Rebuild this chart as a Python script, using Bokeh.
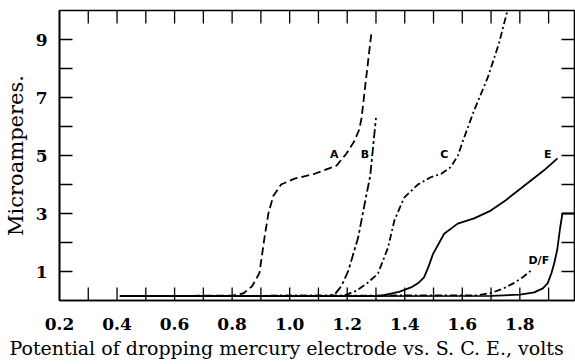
import math
from bokeh.plotting import figure
from bokeh.models import FixedTicker, Range1d, Label, NumeralTickFormatter, Title
from bokeh.embed import file_html
from bokeh.resources import INLINE

# ---- data (volts vs S.C.E., microamperes) ----
a_volts = [0.41, 0.80, 0.84, 0.87, 0.895, 0.913, 0.926, 0.943, 0.97, 1.017, 1.087, 1.163, 1.197, 1.225, 1.242, 1.25, 1.265, 1.285]
a_micro = [0.15, 0.17, 0.25, 0.5, 0.95, 2.2, 3.0, 3.6, 4.0, 4.2, 4.37, 4.65, 5.06, 5.5, 5.9, 6.3, 7.6, 9.3]

b_volts = [0.41, 1.12, 1.156, 1.18, 1.204, 1.238, 1.26, 1.28, 1.30]
b_micro = [0.15, 0.16, 0.2, 0.5, 1.03, 2.17, 3.3, 4.3, 6.3]

c_volts = [0.41, 1.19, 1.232, 1.27, 1.307, 1.342, 1.364, 1.398, 1.446, 1.49, 1.527, 1.56, 1.585, 1.602, 1.641, 1.689, 1.727, 1.757]
c_micro = [0.15, 0.17, 0.34, 0.6, 0.93, 1.83, 2.76, 3.55, 4.0, 4.25, 4.37, 4.6, 5.0, 5.5, 6.55, 7.7, 8.85, 10.0]

d_volts = [0.41, 1.65, 1.70, 1.74, 1.779, 1.81, 1.845]
d_micro = [0.15, 0.18, 0.26, 0.4, 0.6, 0.8, 1.08]

e_volts = [0.41, 1.30, 1.318, 1.38, 1.422, 1.447, 1.467, 1.482, 1.498, 1.537, 1.584, 1.641, 1.699, 1.75, 1.803, 1.883, 1.931]
e_micro = [0.15, 0.15, 0.17, 0.3, 0.45, 0.6, 0.8, 1.15, 1.6, 2.3, 2.65, 2.83, 3.1, 3.45, 3.86, 4.48, 4.9]

f_volts = [0.41, 1.70, 1.80, 1.85, 1.88, 1.897, 1.91, 1.92, 1.93, 1.94, 1.948, 1.99]
f_micro = [0.15, 0.16, 0.2, 0.28, 0.42, 0.6, 0.95, 1.3, 1.75, 2.5, 3.0, 3.0]

x_labelled = [0.2, 0.4, 0.6, 0.8, 1.0, 1.2, 1.4, 1.6, 1.8]
x_all_ticks = [0.3, 0.4, 0.5, 0.6, 0.7, 0.8, 0.9, 1.0, 1.1, 1.2, 1.3, 1.4, 1.5, 1.6, 1.7, 1.8, 1.9]
y_labelled = [1, 3, 5, 7, 9]
y_all_ticks = [1, 2, 3, 4, 5, 6, 7, 8, 9]

curve_names = ["A", "B", "C", "E", "D/F"]
name_volts = [1.155, 1.262, 1.537, 1.897, 1.866]
name_micro = [5.05, 5.05, 5.05, 5.05, 1.38]

x_title = "Potential of dropping mercury electrode vs. S. C. E., volts"
y_title = "Microamperes."

X0, X1 = 0.2, 1.99
Y0, Y1 = 0.0, 10.0

# ---- figure ----
SERIF = "DejaVu Serif"
p = figure(width=575, height=364, x_range=Range1d(X0, X1), y_range=Range1d(Y0, Y1),
           output_backend="svg", toolbar_location=None,
           min_border_left=58, min_border_right=1, min_border_top=10, min_border_bottom=64)
p.grid.visible = False
p.outline_line_color = "black"
p.outline_line_width = 1.6
p.background_fill_color = "white"
p.border_fill_color = "white"


def style_axis(ax):
    ax.axis_line_color = "black"
    ax.axis_line_width = 1.6
    ax.major_tick_in = 0
    ax.major_tick_out = 0
    ax.minor_tick_in = 0
    ax.minor_tick_out = 0
    ax.major_label_text_font = SERIF
    ax.major_label_text_font_style = "bold"
    ax.major_label_text_font_size = "17px"
    ax.major_label_text_color = "black"
    ax.axis_label_text_font = SERIF
    ax.axis_label_text_font_style = "normal"
    ax.axis_label_text_font_size = "21px"
    ax.axis_label_text_color = "black"


xa = p.xaxis[0]
xa.ticker = FixedTicker(ticks=x_labelled)
xa.formatter = NumeralTickFormatter(format="0.0")
style_axis(xa)
xa.major_label_standoff = 17

ya = p.yaxis[0]
ya.ticker = FixedTicker(ticks=y_labelled)
ya.axis_label = y_title
style_axis(ya)
ya.major_label_standoff = 12
ya.axis_label_standoff = 5

# x title: the reference places it across the whole picture, not centred on the frame
xt = Title(text=x_title, align="left", offset=-50, standoff=5,
           text_font=SERIF, text_font_size="19px", text_font_style="normal", text_color="black")
p.add_layout(xt, "below")

# inward ticks on all four sides (length in screen pixels)
TICK = 13
TW = 1.3
nx = len(x_all_ticks)
ny = len(y_all_ticks)
p.ray(x=x_all_ticks, y=[Y0] * nx, length=TICK, length_units="screen", angle=math.pi / 2,
      line_color="black", line_width=TW)
p.ray(x=x_all_ticks, y=[Y1] * nx, length=TICK, length_units="screen", angle=-math.pi / 2,
      line_color="black", line_width=TW)
p.ray(x=[X0] * ny, y=y_all_ticks, length=TICK, length_units="screen", angle=0,
      line_color="black", line_width=TW)
p.ray(x=[X1] * ny, y=y_all_ticks, length=TICK, length_units="screen", angle=math.pi,
      line_color="black", line_width=TW)

LW = 1.8
p.line(a_volts, a_micro, color="black", line_width=LW, line_dash="8 4")
p.line(b_volts, b_micro, color="black", line_width=LW, line_dash="9 3 3 3")
p.line(c_volts, c_micro, color="black", line_width=LW, line_dash="7 3 2 3")
p.line(d_volts, d_micro, color="black", line_width=LW, line_dash="7 3 2 3")
p.line(e_volts, e_micro, color="black", line_width=LW)
p.line(f_volts, f_micro, color="black", line_width=LW)

for name, vx, iy in zip(curve_names, name_volts, name_micro):
    p.add_layout(Label(x=vx, y=iy, text=name, text_align="center", text_baseline="middle",
                       text_font="DejaVu Sans", text_font_style="bold", text_font_size="11px",
                       text_color="black"))

open("out.html", "w").write(file_html(p, INLINE))
